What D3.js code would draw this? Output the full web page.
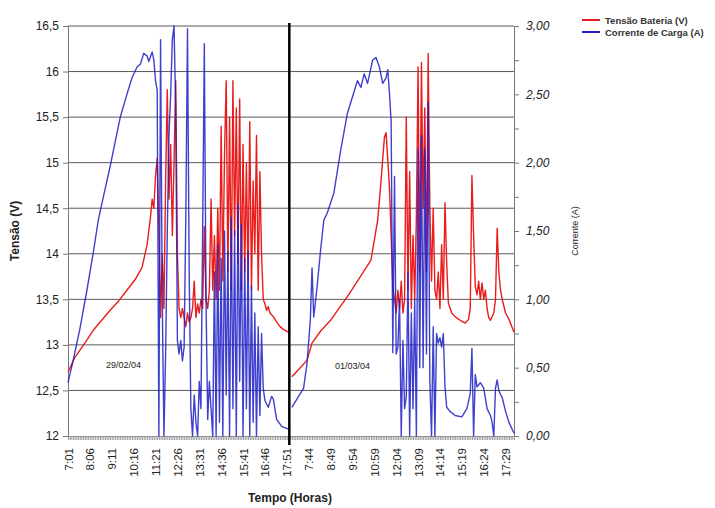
<!DOCTYPE html>
<html><head><meta charset="utf-8">
<script src="https://cdn.jsdelivr.net/npm/d3@7"></script>
<style>body{margin:0;background:#fff;} text{font-family:"Liberation Sans",Arial,sans-serif;}</style>
</head><body><svg id="c" width="715" height="508"></svg>
<script>
// ---- data ----
const voltTicks = [12, 12.5, 13, 13.5, 14, 14.5, 15, 15.5, 16, 16.5];
const voltTickLabels = ["12", "12,5", "13", "13,5", "14", "14,5", "15", "15,5", "16", "16,5"];
const currTicks = [0, 0.5, 1, 1.5, 2, 2.5, 3];
const currTickLabels = ["0,00", "0,50", "1,00", "1,50", "2,00", "2,50", "3,00"];
const currMinorTicks = [0.25, 0.75, 1.25, 1.75, 2.25, 2.75];
const timeLabels = ["7:01","8:06","9:11","10:16","11:21","12:26","13:31","14:36","15:41","16:46","17:51",
                    "7:44","8:49","9:54","10:59","12:04","13:09","14:14","15:19","16:24","17:29"];
const timeLabelSlots = [0,13,26,39,52,65,78,91,104,117,130,143,156,169,182,195,208,221,234,247,260];
const totalSlots = 265;
const dayBreakSlot = 131.5;
const dayLabels = ["29/02/04", "01/03/04"];
const seriesNames = ["Tensão Bateria (V)", "Corrente de Carga (A)"];

// [sample index, value]
const voltageDay1 = [[0,12.70],[4,12.86],[10,13.02],[15,13.16],[20,13.27],[25,13.38],[30,13.48],[35,13.60],[40,13.72],[44,13.85],[47,14.10],[49,14.40],[50,14.60],[51,14.50],[52,14.85],[53,15.05],[54,14.3],[55,13.3],[56,14.0],[57,13.4],[58,14.8],[59,15.8],[60,14.6],[61,15.2],[62,14.2],[63,15.0],[64,15.9],[65,14.0],[66,13.4],[67,13.3],[68,13.4],[69,13.3],[70,13.2],[71,13.35],[72,13.25],[73,13.3],[74,13.4],[75,13.7],[76,13.3],[77,13.45],[78,13.35],[79,13.5],[80,13.4],[81,14.3],[82,13.5],[83,13.4],[84,13.6],[85,14.6],[86,13.6],[87,14.2],[88,13.5],[89,14.5],[90,13.6],[91,15.4],[92,13.7],[93,15.1],[94,15.9],[95,13.8],[96,15.5],[97,13.6],[98,15.9],[99,14.2],[100,15.6],[101,13.9],[102,15.7],[103,13.6],[104,15.2],[105,13.8],[106,15.0],[107,13.7],[108,15.45],[109,13.6],[110,14.8],[111,14.0],[112,15.3],[113,13.6],[114,14.9],[115,14.0],[116,13.5],[117,13.45],[118,13.38],[119,13.42],[120,13.35],[122,13.31],[124,13.25],[126,13.2],[128,13.17],[131,13.14]];
const currentDay1 = [[0,0.39],[3,0.55],[7,0.78],[11,1.05],[15,1.34],[18,1.58],[21,1.75],[25,1.97],[28,2.15],[31,2.33],[35,2.50],[38,2.62],[41,2.70],[43,2.72],[45,2.80],[47,2.78],[48,2.74],[50,2.81],[51,2.75],[52,2.60],[53,2.53],[54,0],[55,2.90],[56,1.0],[57,0],[58,0.6],[59,1.5],[60,2.2],[61,2.5],[62,2.9],[63,3.0],[64,2.4],[65,0.7],[66,0.6],[67,0.7],[68,0.55],[69,0.65],[70,1.6],[71,2.98],[72,1.2],[73,0.2],[74,0],[75,0.3],[76,0.1],[77,0],[78,0.4],[79,0.2],[80,1.5],[81,2.87],[82,1.0],[83,0.12],[84,0.4],[85,0.2],[86,0],[87,1.2],[88,0],[89,1.4],[90,0.1],[91,1.3],[92,0],[93,1.5],[94,0.3],[95,1.35],[96,0],[97,1.6],[98,0.2],[99,1.5],[100,0],[101,1.7],[102,0.4],[103,1.55],[104,0],[105,1.3],[106,0.2],[107,1.35],[108,0],[109,1.1],[110,0.1],[111,0.9],[112,0],[113,0.8],[114,0.15],[115,0.75],[116,0.35],[117,0.26],[119,0.21],[121,0.29],[122,0.27],[124,0.12],[127,0.07],[131,0.05]];
const voltageDay2 = [[133,12.65],[138,12.75],[142,12.83],[145,13.02],[150,13.15],[156,13.27],[161,13.40],[166,13.53],[172,13.70],[180,13.93],[184,14.37],[186,14.8],[188,15.28],[189,15.33],[190,15.03],[191,14.73],[192,14.2],[193,13.64],[194,13.5],[195,13.35],[196,13.6],[197,13.4],[198,13.7],[199,13.35],[200,13.5],[201,15.5],[202,13.6],[203,14.9],[204,13.4],[205,14.2],[206,13.5],[207,14.4],[208,16.05],[209,13.8],[210,16.1],[211,14.5],[212,15.6],[213,13.8],[214,16.2],[215,14.5],[216,13.7],[217,14.5],[218,13.6],[219,13.5],[220,13.8],[221,13.4],[222,14.1],[223,13.5],[224,14.56],[225,13.9],[226,13.46],[228,13.35],[230,13.31],[233,13.27],[236,13.24],[238,13.28],[239,13.4],[240,14.86],[241,14.2],[242,13.64],[243,13.55],[244,13.7],[245,13.5],[246,13.68],[247,13.5],[248,13.6],[249,13.4],[250,13.3],[251,13.27],[253,13.35],[254,13.5],[255,14.28],[256,13.8],[257,13.6],[258,13.5],[260,13.35],[262,13.28],[265,13.14]];
const currentDay2 = [[133,0.21],[135,0.25],[138,0.31],[140,0.35],[142,0.53],[144,0.85],[145,1.23],[146,0.87],[148,1.09],[150,1.35],[152,1.58],[154,1.63],[158,1.78],[162,2.09],[166,2.36],[169,2.48],[172,2.60],[174,2.55],[176,2.65],[178,2.58],[181,2.75],[183,2.77],[185,2.70],[187,2.58],[189,2.62],[190,2.68],[191,2.51],[192,2.3],[193,0.61],[194,1.9],[195,0.6],[196,0.65],[197,1.0],[198,0],[199,0.7],[200,0.2],[201,0.29],[202,1.2],[203,0],[204,0.9],[205,0.2],[206,1.0],[207,0],[208,2.1],[209,0.5],[210,2.2],[211,0.5],[212,2.1],[213,0.6],[214,2.44],[215,0.4],[216,0],[217,0.8],[218,0],[219,0.75],[220,0.68],[221,0.72],[222,0.65],[223,0.75],[224,0.36],[225,0.21],[227,0.18],[230,0.15],[234,0.14],[237,0.2],[239,0.31],[240,0.64],[241,0],[242,0.45],[243,0.36],[245,0.39],[247,0.35],[249,0.2],[251,0.15],[252,0.1],[253,0],[254,0.35],[255,0.41],[256,0.33],[258,0.28],[260,0.18],[262,0.1],[265,0.02]];

// ---- layout ----
const L = 68, R = 514, T = 26, B = 436;
const red = "#ea1c1c", blue = "#1f1fc6";
const svg = d3.select("#c");
const x = d3.scaleLinear().domain([0, totalSlots]).range([L, R]);
const yV = d3.scaleLinear().domain([12, 16.5]).range([B, T]);
const yC = d3.scaleLinear().domain([0, 3]).range([B, T]);

// gridlines
svg.append("g").selectAll("line").data(voltTicks.slice(1)).join("line")
  .attr("x1", L).attr("x2", R).attr("y1", d => yV(d)).attr("y2", d => yV(d))
  .attr("stroke", "#5a5a5a").attr("stroke-width", 1);

// left axis
const axL = svg.append("g").attr("transform", `translate(${L},0)`)
  .call(d3.axisLeft(yV).tickValues(voltTicks).tickFormat((d, i) => voltTickLabels[i]).tickSize(5).tickPadding(4));
axL.select(".domain").attr("stroke", "#777");
axL.selectAll(".tick line").attr("stroke", "#777");
axL.selectAll("text").attr("font-size", 12).attr("fill", "#222")
  .attr("font-family", "'Liberation Sans',Arial,sans-serif");

// right axis
const axR = svg.append("g").attr("transform", `translate(${R},0)`)
  .call(d3.axisRight(yC).tickValues(currTicks).tickFormat((d, i) => currTickLabels[i]).tickSize(5).tickPadding(7));
axR.select(".domain").attr("stroke", "#777");
axR.selectAll(".tick line").attr("stroke", "#777");
axR.selectAll("text").attr("font-size", 12).attr("fill", "#222").attr("font-style", "italic")
  .attr("font-family", "'Liberation Sans',Arial,sans-serif");
svg.append("g").attr("transform", `translate(${R},0)`)
  .call(d3.axisRight(yC).tickValues(currMinorTicks).tickFormat("").tickSize(5))
  .call(g => { g.select(".domain").remove(); g.selectAll("line").attr("stroke", "#777"); });

// bottom axis: dense category ticks
svg.append("g").attr("transform", `translate(0,${B})`)
  .call(d3.axisBottom(x).tickValues(d3.range(0, totalSlots + 1)).tickFormat("").tickSize(4))
  .call(g => { g.select(".domain").attr("stroke", "#888"); g.selectAll("line").attr("stroke", "#9a9a9a"); });
const axB = svg.append("g").attr("transform", `translate(0,${B})`)
  .call(d3.axisBottom(x).tickValues(timeLabelSlots).tickFormat((d, i) => timeLabels[i]).tickSize(0));
axB.select(".domain").remove();
axB.selectAll("text").attr("font-size", 11.5).attr("fill", "#222")
  .attr("font-family", "'Liberation Sans',Arial,sans-serif")
  .attr("text-anchor", "end").attr("transform", "rotate(-90)")
  .attr("x", -12).attr("y", 0).attr("dy", "0.35em");

// series
const lineV = d3.line().x(d => x(d[0])).y(d => yV(d[1]));
const lineC = d3.line().x(d => x(d[0])).y(d => yC(d[1]));
[voltageDay1, voltageDay2].forEach(s => svg.append("path").attr("d", lineV(s))
  .attr("fill", "none").attr("stroke", red).attr("stroke-width", 1.4).attr("stroke-linejoin", "round"));
[currentDay1, currentDay2].forEach(s => svg.append("path").attr("d", lineC(s))
  .attr("fill", "none").attr("stroke", blue).attr("stroke-width", 1.4).attr("stroke-opacity", 0.85).attr("stroke-linejoin", "round"));

// day separator
svg.append("line").attr("x1", x(dayBreakSlot)).attr("x2", x(dayBreakSlot)).attr("y1", T - 3).attr("y2", B + 9)
  .attr("stroke", "#000").attr("stroke-width", 2.5);

// day labels
svg.append("text").attr("x", x(33)).attr("y", 368).attr("text-anchor", "middle")
  .attr("font-size", 9).attr("fill", "#222").text(dayLabels[0]);
svg.append("text").attr("x", x(169)).attr("y", 369).attr("text-anchor", "middle")
  .attr("font-size", 9).attr("fill", "#222").text(dayLabels[1]);

// titles
svg.append("text").attr("transform", "translate(19,231) rotate(-90)").attr("text-anchor", "middle")
  .attr("font-size", 12).attr("font-weight", "bold").attr("fill", "#222").text("Tensão (V)");
svg.append("text").attr("transform", "translate(578,231) rotate(-90)").attr("text-anchor", "middle")
  .attr("font-size", 9).attr("fill", "#222").text("Corrente (A)");
svg.append("text").attr("x", 290).attr("y", 502).attr("text-anchor", "middle")
  .attr("font-size", 12).attr("font-weight", "bold").attr("fill", "#222").text("Tempo (Horas)");

// legend
[red, blue].forEach((c, i) => {
  const yy = 20 + i * 12;
  svg.append("line").attr("x1", 582).attr("x2", 600).attr("y1", yy).attr("y2", yy)
    .attr("stroke", c).attr("stroke-width", 2);
  svg.append("text").attr("x", 605).attr("y", yy + 3.5).attr("font-size", 9.5).attr("font-weight", "bold")
    .attr("fill", "#333").text(seriesNames[i]);
});
</script></body></html>
